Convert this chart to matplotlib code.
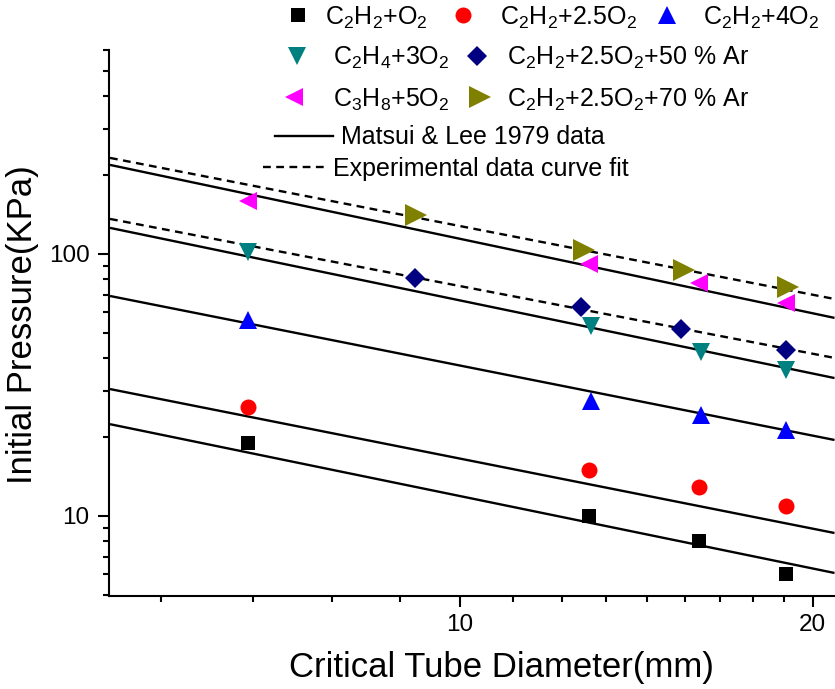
import matplotlib
matplotlib.use("Agg")
import matplotlib.pyplot as plt
from matplotlib.ticker import FixedLocator, FixedFormatter, NullFormatter, LogLocator
from matplotlib.lines import Line2D

plt.rcParams['font.family'] = ['Liberation Sans', 'DejaVu Sans']
plt.rcParams['mathtext.default'] = 'regular'

# ---- data ----
x_c2h2_o2 = [6.6, 12.9, 16.0, 19.0]
y_c2h2_o2 = [19.0, 10.0, 8.0, 6.0]
x_c2h2_25o2 = [6.6, 12.9, 16.0, 19.0]
y_c2h2_25o2 = [26.1, 15.0, 12.9, 10.9]
x_c2h2_4o2 = [6.6, 12.95, 16.05, 19.0]
y_c2h2_4o2 = [56.0, 27.5, 24.3, 21.3]
x_c2h4_3o2 = [6.6, 12.95, 16.05, 19.0]
y_c2h4_3o2 = [101.8, 53.1, 42.3, 36.1]
x_c3h8_5o2 = [6.6, 12.9, 16.0, 19.0]
y_c3h8_5o2 = [159.3, 91.6, 77.5, 65.0]
x_ar50 = [9.15, 12.7, 15.45, 19.0]
y_ar50 = [81.0, 62.8, 51.7, 43.0]
x_ar70 = [9.17, 12.76, 15.55, 19.07]
y_ar70 = [140.9, 103.6, 86.9, 74.8]

line_x = [5.03, 20.88]
matsui_lines = [[218.6, 57.0], [125.7, 33.6], [69.1, 19.5], [30.5, 8.61], [22.4, 6.06]]
fit_lines = [[232.5, 67.3], [136.0, 40.1]]

x_major = [10, 20]
x_major_labels = ['10', '20']
x_minor = [50/9, 60/9, 70/9, 80/9, 100/9, 110/9, 120/9, 130/9, 140/9, 150/9, 160/9, 170/9, 180/9]
y_major = [10, 100]
y_major_labels = ['10', '100']

series = [
    (x_c2h2_o2, y_c2h2_o2, 's', 'black', 10, r'C$_2$H$_2$+O$_2$'),
    (x_c2h2_25o2, y_c2h2_25o2, 'o', 'red', 11.5, r'C$_2$H$_2$+2.5O$_2$'),
    (x_c2h2_4o2, y_c2h2_4o2, '^', 'blue', 13, r'C$_2$H$_2$+4O$_2$'),
    (x_c2h4_3o2, y_c2h4_3o2, 'v', '#008080', 13, r'C$_2$H$_4$+3O$_2$'),
    (x_ar50, y_ar50, 'D', '#000080', 10.5, r'C$_2$H$_2$+2.5O$_2$+50 % Ar'),
    (x_c3h8_5o2, y_c3h8_5o2, '<', '#FF00FF', 13.5, r'C$_3$H$_8$+5O$_2$'),
    (x_ar70, y_ar70, '>', '#808000', 16, r'C$_2$H$_2$+2.5O$_2$+70 % Ar'),
]

W, H = 835, 689
fig = plt.figure(figsize=(W/100, H/100), dpi=100)
ax = fig.add_axes([109/W, 1-596/H, (835-109)/W, (596-50)/H])
ax.set_xscale('log')
ax.set_yscale('log')

for ys in matsui_lines:
    ax.plot(line_x, ys, color='black', lw=1.7, solid_capstyle='butt')
for ys in fit_lines:
    ax.plot(line_x, ys, color='black', lw=1.7, dashes=(3.3, 2.3))

for xs, ys, m, c, ms, lab in series:
    ax.plot(xs, ys, linestyle='none', marker=m, color=c, markersize=ms, markeredgewidth=0)

ax.set_xlim(5.02, 20.9)
ax.set_ylim(4.95, 600)

ax.xaxis.set_major_locator(FixedLocator(x_major))
ax.xaxis.set_major_formatter(FixedFormatter(x_major_labels))
ax.xaxis.set_minor_locator(FixedLocator(x_minor))
ax.xaxis.set_minor_formatter(NullFormatter())
ax.yaxis.set_major_locator(FixedLocator(y_major))
ax.yaxis.set_major_formatter(FixedFormatter(y_major_labels))
ax.yaxis.set_minor_locator(LogLocator(base=10, subs=[2, 3, 4, 5, 6, 7, 8, 9]))
ax.yaxis.set_minor_formatter(NullFormatter())

for s in ['top', 'right']:
    ax.spines[s].set_visible(False)
for s in ['left', 'bottom']:
    ax.spines[s].set_linewidth(1.5)
ax.tick_params(which='major', length=8, width=1.5, labelsize=17.5, pad=5)
ax.tick_params(which='minor', length=4.5, width=1.5)
ax.tick_params(axis='y', which='major', pad=6)

ax.set_xlabel('Critical Tube Diameter(mm)', fontsize=25)
ax.set_ylabel('Initial Pressure(KPa)', fontsize=25)
ax.xaxis.set_label_coords(0.54, -0.1)
ax.yaxis.set_label_coords(-0.097, 0.497)

# ---- manual legend (figure pixel coordinates) ----
def fx(px):
    return px / W
def fy(py):
    return 1 - py / H

leg_marker_pos = [(298, 15), (463, 15), (667, 15), (297, 56), (477, 56), (294, 97), (480, 97)]
leg_text_pos = [(325, 25), (500, 25), (703, 25), (333, 65), (507, 65), (333, 107), (507, 107)]
for (xs, ys, m, c, ms, lab), (mx, my), (tx, ty) in zip(series, leg_marker_pos, leg_text_pos):
    fig.add_artist(Line2D([fx(mx)], [fy(my)], marker=m, color=c, markersize=ms,
                          markeredgewidth=0, linestyle='none', transform=fig.transFigure))
    fig.text(fx(tx), fy(ty), lab, fontsize=18, ha='left', va='baseline')

fig.add_artist(Line2D([fx(275), fx(333)], [fy(136), fy(136)], color='black', lw=1.7,
                      transform=fig.transFigure))
fig.text(fx(341), fy(144), 'Matsui & Lee 1979 data', fontsize=18, ha='left', va='baseline')
fig.add_artist(Line2D([fx(263), fx(326)], [fy(167), fy(167)], color='black', lw=1.7,
                      dashes=(3.3, 2.3), transform=fig.transFigure))
fig.text(fx(333), fy(176), 'Experimental data curve fit', fontsize=18, ha='left', va='baseline')

fig.savefig('out.png', dpi=100)
